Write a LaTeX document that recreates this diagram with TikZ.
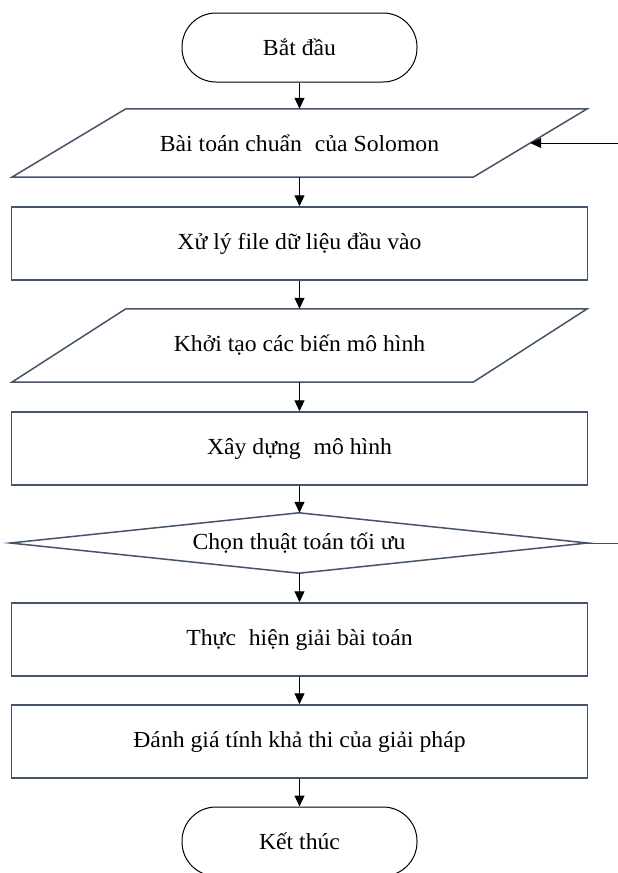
\documentclass[tikz,border=0pt]{standalone}
\usepackage{fontspec}
\setmainfont[FakeStretch=1.03]{Liberation Serif}
\usetikzlibrary{arrows.meta,calc}
\definecolor{edgec}{RGB}{68,84,106}
\newcommand{\wsp}{\hspace{0.3em}}
\begin{document}
\begin{tikzpicture}[x=1pt,y=-1pt,
  txt/.style={inner sep=0pt, font=\fontsize{23}{27}\selectfont},
  box/.style={txt, draw=edgec, line width=1.5pt, minimum width=576pt, minimum height=73pt},
  ghost/.style={txt, minimum width=575pt, minimum height=73pt},
  term/.style={txt, draw=black, line width=1pt, minimum width=235pt, minimum height=69pt, rounded corners=34pt},
  outline/.style={draw=edgec, line width=1.5pt, line join=miter},
  arr/.style={draw=black, line width=1pt, -{Triangle[width=10pt,length=11pt]}}
]
\clip (0,0) rectangle (618,873);
\fill[white] (0,0) rectangle (618,873);

\node[term] (start) at (299.5,47.5) {Bắt đầu};

\node[ghost, minimum height=68pt] (p1) at (299.5,143) {Bài toán chuẩn \wsp của Solomon};
\draw[outline] ($(p1.north west)+(114,0)$) -- (p1.north east) -- ($(p1.south east)-(114,0)$) -- (p1.south west) -- cycle;
\coordinate (p1r) at ($(p1.east)-(57,0)$);
\coordinate (fb) at (618,143);

\node[box] (r1) at (299.5,243.5) {Xử lý file dữ liệu đầu vào};

\node[ghost] (p2) at (299.5,345.5) {Khởi tạo các biến mô hình};
\draw[outline] ($(p2.north west)+(114,0)$) -- (p2.north east) -- ($(p2.south east)-(114,0)$) -- (p2.south west) -- cycle;

\node[box] (r2) at (299.5,448.5) {Xây dựng \wsp mô hình};

\node[txt, minimum width=577pt, minimum height=60pt] (d) at (299,543) {Chọn thuật toán tối ưu};
\draw[outline] (d.west) -- (d.north) -- (d.east) -- (d.south) -- cycle;
\coordinate (dr) at (618,543);

\node[box] (r3) at (299.5,639.5) {Thực \wsp hiện giải bài toán};
\node[box] (r4) at (299.5,741.5) {Đánh giá tính khả thi của giải pháp};
\node[term] (end) at (299.5,841.5) {Kết thúc};

\draw[arr] (start) -- (p1);
\draw[arr] (p1) -- (r1);
\draw[arr] (r1) -- (p2);
\draw[arr] (p2) -- (r2);
\draw[arr] (r2.south) -- (r2.south |- d.north);
\draw[arr] (r3.north |- d.south) -- (r3.north);
\draw[arr] (r3) -- (r4);
\draw[arr] (r4) -- (end);
\draw[arr] (fb) -- (p1r);
\draw[black!70, line width=1pt] (d.east) -- (dr);
\end{tikzpicture}
\end{document}
